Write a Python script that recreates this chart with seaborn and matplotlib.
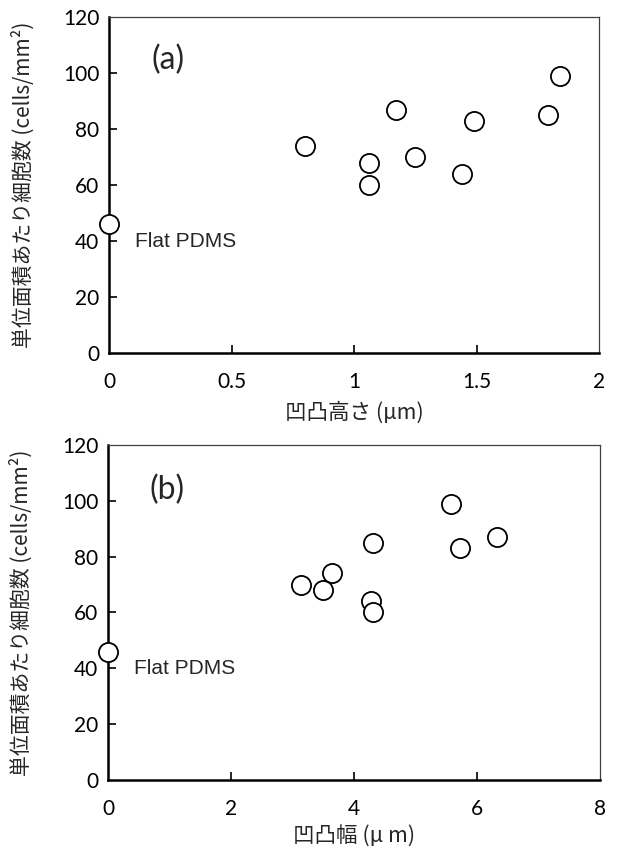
import matplotlib
matplotlib.use("Agg")
import matplotlib.pyplot as plt
import pandas as pd
import seaborn as sns

# Cell density versus pattern height (a) and pattern width (b); x = 0 is flat PDMS
height_um = [0.00, 0.80, 1.06, 1.06, 1.17, 1.25, 1.44, 1.49, 1.79, 1.84]
height_cells = [46, 74, 60, 68, 87, 70, 64, 83, 85, 99]

width_um = [0.00, 3.14, 3.50, 3.64, 4.27, 4.31, 4.31, 5.57, 5.72, 6.33]
width_cells = [46, 70, 68, 74, 64, 60, 85, 99, 83, 87]

y_ticks = [0, 20, 40, 60, 80, 100, 120]
height_ticks = [0, 0.5, 1, 1.5, 2]
height_tick_labels = ["0", "0.5", "1", "1.5", "2"]
width_ticks = [0, 2, 4, 6, 8]

y_label = "単位面積あたり細胞数 (cells/mm²)"
height_label = "凹凸高さ (μm)"
width_label = "凹凸幅 (μ m)"
flat_label = "Flat PDMS"

sns.set_style("white")
plt.rcParams["font.family"] = ["Noto Sans CJK JP", "DejaVu Sans"]

fig = plt.figure(figsize=(6.17, 8.49), dpi=100)
ax_a = fig.add_axes([0.1767, 0.5842, 0.7942, 0.3952])
ax_b = fig.add_axes([0.1750, 0.0813, 0.7974, 0.3946])

df_a = pd.DataFrame({"x": height_um, "y": height_cells})
df_b = pd.DataFrame({"x": width_um, "y": width_cells})


def style_axes(ax, xlim, xticks, xticklabels, xlabel, xlabel_y, panel,
               panel_xy, flat_xy):
    ax.set_xlim(*xlim)
    ax.set_ylim(0, 120)
    ax.set_xticks(xticks)
    ax.set_xticklabels(xticklabels)
    ax.set_yticks(y_ticks)
    ax.set_yticklabels([str(v) for v in y_ticks])
    for lab in ax.get_xticklabels() + ax.get_yticklabels():
        lab.set_fontfamily("Lato")
        lab.set_fontsize(15)
    ax.tick_params(axis="x", direction="in", length=6, width=1.2, pad=14,
                   colors="black", bottom=True, top=False)
    ax.tick_params(axis="y", direction="in", length=6, width=1.2, pad=7,
                   colors="black", left=True, right=False)
    # hide the edge ticks at the axes corners
    ax.xaxis.get_major_ticks()[0].tick1line.set_visible(False)
    ax.xaxis.get_major_ticks()[-1].tick1line.set_visible(False)
    ax.yaxis.get_major_ticks()[0].tick1line.set_visible(False)
    ax.yaxis.get_major_ticks()[-1].tick1line.set_visible(False)
    for side in ("left", "bottom"):
        ax.spines[side].set_linewidth(1.8)
        ax.spines[side].set_color("black")
    for side in ("top", "right"):
        ax.spines[side].set_linewidth(0.9)
        ax.spines[side].set_color("#404040")
    ax.set_xlabel(xlabel, fontsize=15.5, va="top")
    ax.xaxis.set_label_coords(0.5, xlabel_y)
    ax.set_ylabel(y_label, fontsize=15,
                  family=["Noto Sans CJK JP", "DejaVu Sans"])
    ax.yaxis.set_label_coords(-0.152, 0.5)
    ax.text(panel_xy[0], panel_xy[1], panel, fontsize=23, family="Lato",
            ha="center", va="center")
    ax.text(flat_xy[0], flat_xy[1], flat_label, fontsize=15,
            family="Liberation Sans", ha="left", va="center")


for ax, df in ((ax_a, df_a), (ax_b, df_b)):
    sns.scatterplot(data=df, x="x", y="y", ax=ax, s=190, marker="o",
                    facecolor="white", edgecolor="black", linewidth=1.3,
                    clip_on=False, zorder=5)

style_axes(ax_a, (0, 2), height_ticks, height_tick_labels, height_label, -0.143,
           "(a)", (0.24, 105), (0.105, 40))
style_axes(ax_b, (0, 8), width_ticks, [str(v) for v in width_ticks], width_label,
           -0.137, "(b)", (0.96, 104), (0.42, 40))

fig.savefig("out.png", dpi=100, facecolor="white")
